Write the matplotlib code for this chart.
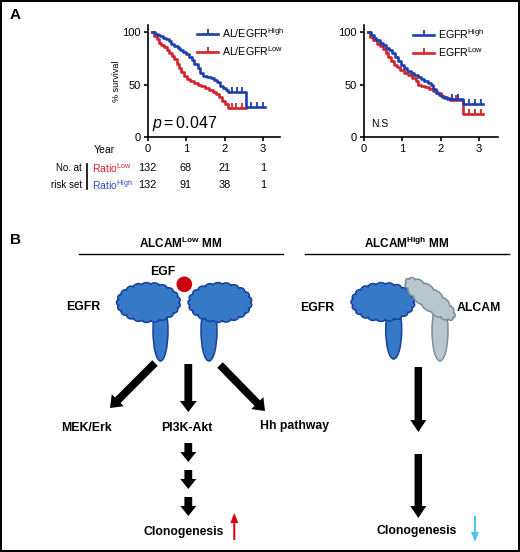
import numpy as np
import matplotlib
matplotlib.use('Agg')
import matplotlib.pyplot as plt
from matplotlib import patches, transforms
from matplotlib.lines import Line2D

plt.rcParams['font.family'] = ['Liberation Sans', 'DejaVu Sans']
plt.rcParams['mathtext.fontset'] = 'custom'
plt.rcParams['mathtext.rm'] = 'Liberation Sans'
plt.rcParams['mathtext.it'] = 'Liberation Sans:italic'
plt.rcParams['mathtext.bf'] = 'Liberation Sans:bold'

# ---------------- data ----------------
years = [0, 1, 2, 3]
surv_ticks = [0, 50, 100]

# Panel A left: AL/EGFR ratio
ratio_high_t = [0.12, 0.2, 0.26, 0.33, 0.4, 0.47, 0.55, 0.62, 0.7, 0.78, 0.85, 0.92, 1.0,
                1.08, 1.15, 1.22, 1.3, 1.36, 1.45, 1.55, 1.65, 1.72, 1.8, 1.88, 1.95, 2.03,
                2.1, 2.56]
ratio_high_s = [100, 98, 97, 96, 94, 93, 91, 89, 87, 85, 83, 81, 79,
                76, 73, 70, 66, 61, 58, 57, 56, 54, 52, 49, 47, 45,
                43, 29]
ratio_high_end = 3.05
ratio_high_cens = [2.2, 2.32, 2.45, 2.7, 2.85, 3.0]

ratio_low_t = [0.12, 0.18, 0.24, 0.3, 0.36, 0.42, 0.5, 0.57, 0.64, 0.7, 0.76, 0.82, 0.88,
               0.95, 1.02, 1.1, 1.2, 1.3, 1.4, 1.5, 1.6, 1.7, 1.78, 1.86, 1.94, 2.02, 2.1]
ratio_low_s = [100, 96, 93, 90, 88, 86, 83, 80, 77, 74, 70, 66, 62,
               58, 55, 53, 51, 50, 49, 47, 45, 43, 41, 38, 34, 31, 28]
ratio_low_end = 2.56
ratio_low_cens = [2.2, 2.3, 2.45]

# Panel A right: EGFR
egfr_high_t = [0.1, 0.18, 0.25, 0.32, 0.42, 0.5, 0.58, 0.66, 0.74, 0.82, 0.9, 0.97, 1.05,
               1.13, 1.22, 1.3, 1.4, 1.5, 1.58, 1.66, 1.74, 1.8, 1.88, 1.96, 2.05, 2.16, 2.59]
egfr_high_s = [100, 97, 94, 92, 90, 88, 85, 83, 80, 76, 72, 69, 66,
               63, 61, 59, 57, 55, 53, 51, 50, 46, 42, 40, 38, 36, 31]
egfr_high_end = 3.1
egfr_high_cens = [2.3, 2.45, 2.75, 2.9, 3.05]

egfr_low_t = [0.1, 0.16, 0.24, 0.33, 0.42, 0.5, 0.57, 0.63, 0.7, 0.78, 0.86, 0.95, 1.05,
              1.15, 1.25, 1.35, 1.42, 1.5, 1.6, 1.7, 1.8, 1.9, 2.0, 2.1, 2.25, 2.59]
egfr_low_s = [100, 95, 92, 89, 87, 84, 80, 76, 72, 69, 67, 64, 61,
              59, 56, 53, 50, 49, 48, 46, 44, 42, 39, 37, 35, 22]
egfr_low_end = 3.1
egfr_low_cens = [2.4, 2.75, 2.9, 3.05]

risk_low = [132, 68, 21, 1]
risk_high = [132, 91, 38, 1]
p_text = '$p = 0.047$'

BLUE = '#1d3fae'
RED = '#d3232b'
TICK = [(0, 0), (0, 1)]

W, H = 520, 552
fig = plt.figure(figsize=(W / 100, H / 100), dpi=100)
ov = fig.add_axes([0, 0, 1, 1])
ov.set_xlim(0, W)
ov.set_ylim(H, 0)
ov.axis('off')


def km_axes(left_px, right_px, xmax):
    ax = fig.add_axes([left_px / W, 1 - 137 / H, (right_px - left_px) / W, 112 / H])
    ax.set_xlim(0, xmax)
    ax.set_ylim(0, 106.7)
    ax.patch.set_alpha(0)
    for s in ['top', 'right']:
        ax.spines[s].set_visible(False)
    for s in ['left', 'bottom']:
        ax.spines[s].set_linewidth(1.2)
    ax.set_xticks(years)
    ax.set_yticks(surv_ticks)
    ax.tick_params(length=3, width=1.2, labelsize=8, pad=2)
    return ax


def km(ax, t, s, end, cens, color):
    tt = list(t) + [end]
    ss = list(s) + [s[-1]]
    ax.step(tt, ss, where='post', color=color, lw=1.9)
    idx = np.searchsorted(t, cens, side='right') - 1
    ax.plot(cens, np.array(s)[idx], ls='none', marker=TICK, ms=7, mew=1.3, color=color)


def legend(ax, labels, x0, y0):
    handles = [Line2D([0], [0], color=BLUE, lw=1.9, marker=TICK, ms=7, mew=1.3),
               Line2D([0], [0], color=RED, lw=1.9, marker=TICK, ms=7, mew=1.3)]
    ax.legend(handles, labels, loc='upper left', bbox_to_anchor=(x0 / W, 1 - y0 / H),
              bbox_transform=fig.transFigure, frameon=False, fontsize=7.7,
              handlelength=2.0, handletextpad=0.3, labelspacing=0.42,
              borderpad=0, borderaxespad=0, numpoints=1)


ax1 = km_axes(147.5, 280, 3.44)
km(ax1, ratio_low_t, ratio_low_s, ratio_low_end, ratio_low_cens, RED)
km(ax1, ratio_high_t, ratio_high_s, ratio_high_end, ratio_high_cens, BLUE)
legend(ax1, ['AL/EGFR$^{\\mathrm{High}}$', 'AL/EGFR$^{\\mathrm{Low}}$'], 197, 26)
ax1.set_ylabel('% survival', fontsize=6.5, labelpad=1,
               family=['Liberation Sans Narrow', 'Liberation Sans'])
ax1.text(0.035, 0.04, p_text, transform=ax1.transAxes, fontsize=11.5, ha='left', va='bottom')

ax2 = km_axes(364, 498, 3.5)
km(ax2, egfr_low_t, egfr_low_s, egfr_low_end, egfr_low_cens, RED)
km(ax2, egfr_high_t, egfr_high_s, egfr_high_end, egfr_high_cens, BLUE)
legend(ax2, ['EGFR$^{\\mathrm{High}}$', 'EGFR$^{\\mathrm{Low}}$'], 413, 27)
ax2.text(0.05, 0.07, 'N.S', transform=ax2.transAxes, fontsize=7.5, ha='left', va='bottom')

# risk table
trans = transforms.blended_transform_factory(ax1.transData, ov.transData)
ov.text(104, 150, 'Year', fontsize=7.5, ha='center', va='center')
ov.text(82, 168, 'No. at', fontsize=7, ha='right', va='center')
ov.text(82, 185, 'risk set', fontsize=7, ha='right', va='center')
ov.plot([87.3, 87.3], [164, 189], color='black', lw=1.2)
ov.text(92, 168, 'Ratio$^{\\mathrm{Low}}$', fontsize=7.5, color=RED, ha='left', va='center')
ov.text(92, 185, 'Ratio$^{\\mathrm{High}}$', fontsize=7.5, color='#2a4fc0', ha='left', va='center')
for x, v in zip(years, risk_low):
    ov.text(x, 168, str(v), transform=trans, fontsize=7.8, ha='center', va='center')
for x, v in zip(years, risk_high):
    ov.text(x, 185, str(v), transform=trans, fontsize=7.8, ha='center', va='center')

# panel letters
ov.text(10, 15, 'A', fontsize=11, fontweight='bold', ha='left', va='center')
ov.text(10, 240, 'B', fontsize=11, fontweight='bold', ha='left', va='center')

# ---------------- panel B schematic ----------------
ov.text(180.5, 243, 'ALCAM$^{\\mathbf{Low}}$ MM', fontsize=8.5, fontweight='bold', ha='center', va='center')
ov.text(406.5, 243, 'ALCAM$^{\\mathbf{High}}$ MM', fontsize=8.5, fontweight='bold', ha='center', va='center')
ov.plot([79, 283], [254.3, 254.3], color='black', lw=1.0)
ov.plot([305, 509], [254.3, 254.3], color='black', lw=1.0)

BF, BE = '#3679c6', '#16409e'
GF, GE = '#bac6cd', '#7c8e97'


def cloud(cx, cy, rx, ry, n, amp, angle=0.0, fc=BF, ec=BE, z=3):
    t = np.linspace(0, 2 * np.pi, 800)
    bx, by = (rx - amp) * np.cos(t), (ry - amp) * np.sin(t)
    nx, ny = np.cos(t) / (rx - amp), np.sin(t) / (ry - amp)
    nn = np.hypot(nx, ny)
    bump = amp * np.abs(np.sin(n * t / 2)) ** 0.5
    x = bx + bump * nx / nn
    y = by + bump * ny / nn
    a = np.deg2rad(angle)
    xr = x * np.cos(a) - y * np.sin(a) + cx
    yr = x * np.sin(a) + y * np.cos(a) + cy
    ov.add_patch(patches.Polygon(np.c_[xr, yr], closed=True, fc=fc, ec=ec, lw=1.1, zorder=z))


def stalk(cx, top, bottom, w, fc=BF, ec=BE, z=2):
    h = (bottom - top)
    ov.add_patch(patches.Ellipse((cx, (top + bottom) / 2), w, h, fc=fc, ec=ec, lw=1.1, zorder=z))


# left pair
stalk(160.5, 300, 361, 15)
stalk(209, 300, 361, 16)
cloud(148.5, 302.5, 32, 20, 21, 2.3)
cloud(220, 302.5, 32, 20, 21, 2.3)
ov.add_patch(patches.Circle((184.3, 284.3), 7.8, fc='#cc0010', ec='none', zorder=4))
ov.text(162.7, 271.7, 'EGF', fontsize=8.8, fontweight='bold', ha='center', va='center')
ov.text(83.3, 307.3, 'EGFR', fontsize=8.8, fontweight='bold', ha='center', va='center')

# right pair
stalk(393.7, 300, 359, 16)
stalk(440, 300, 361, 16, fc=GF, ec=GE)
cloud(383, 302, 32, 19.5, 21, 2.3)
cloud(430, 299, 31, 11, 15, 2.0, angle=39, fc=GF, ec=GE, z=4)
ov.text(316.7, 308.3, 'EGFR', fontsize=8.8, fontweight='bold', ha='center', va='center')
ov.text(479, 308.3, 'ALCAM', fontsize=8.8, fontweight='bold', ha='center', va='center')


def arrow(x0, y0, x1, y1, w=7.8, hw=17, hl=11, color='black'):
    ov.add_patch(patches.FancyArrow(x0, y0, x1 - x0, y1 - y0, width=w, head_width=hw,
                                    head_length=hl, length_includes_head=True,
                                    color=color, lw=0, zorder=5))


arrow(155, 363, 110, 408)
arrow(188.3, 364, 188.3, 412)
arrow(220, 365, 265, 411)
arrow(188.3, 443, 188.3, 462, hl=10, hw=16)
arrow(188.3, 470, 188.3, 489, hl=10, hw=16)
arrow(188.3, 497, 188.3, 516, hl=10, hw=16)
arrow(418.3, 367, 418.3, 432, w=7.5, hw=16, hl=12)
arrow(418.3, 454, 418.3, 518, w=7.5, hw=16, hl=12)
arrow(234.3, 540, 234.3, 513, w=2, hw=8, hl=10, color='#d40010')
arrow(475, 516, 475, 542, w=2, hw=8, hl=10, color='#4cc3f2')

ov.text(86, 428.3, 'MEK/Erk', fontsize=8.8, fontweight='bold', ha='center', va='center')
ov.text(186.7, 427.7, 'PI3K-Akt', fontsize=8.8, fontweight='bold', ha='center', va='center')
ov.text(295, 426, 'Hh pathway', fontsize=8.8, fontweight='bold', ha='center', va='center')
ov.text(184, 532, 'Clonogenesis', fontsize=8.8, fontweight='bold', ha='center', va='center')
ov.text(416.7, 531, 'Clonogenesis', fontsize=8.8, fontweight='bold', ha='center', va='center')

# outer frame
fig.patches.append(patches.Rectangle((0, 0), 1, 1, transform=fig.transFigure, fill=False,
                                     ec='black', lw=2.9))

fig.savefig('out.png', dpi=100)
